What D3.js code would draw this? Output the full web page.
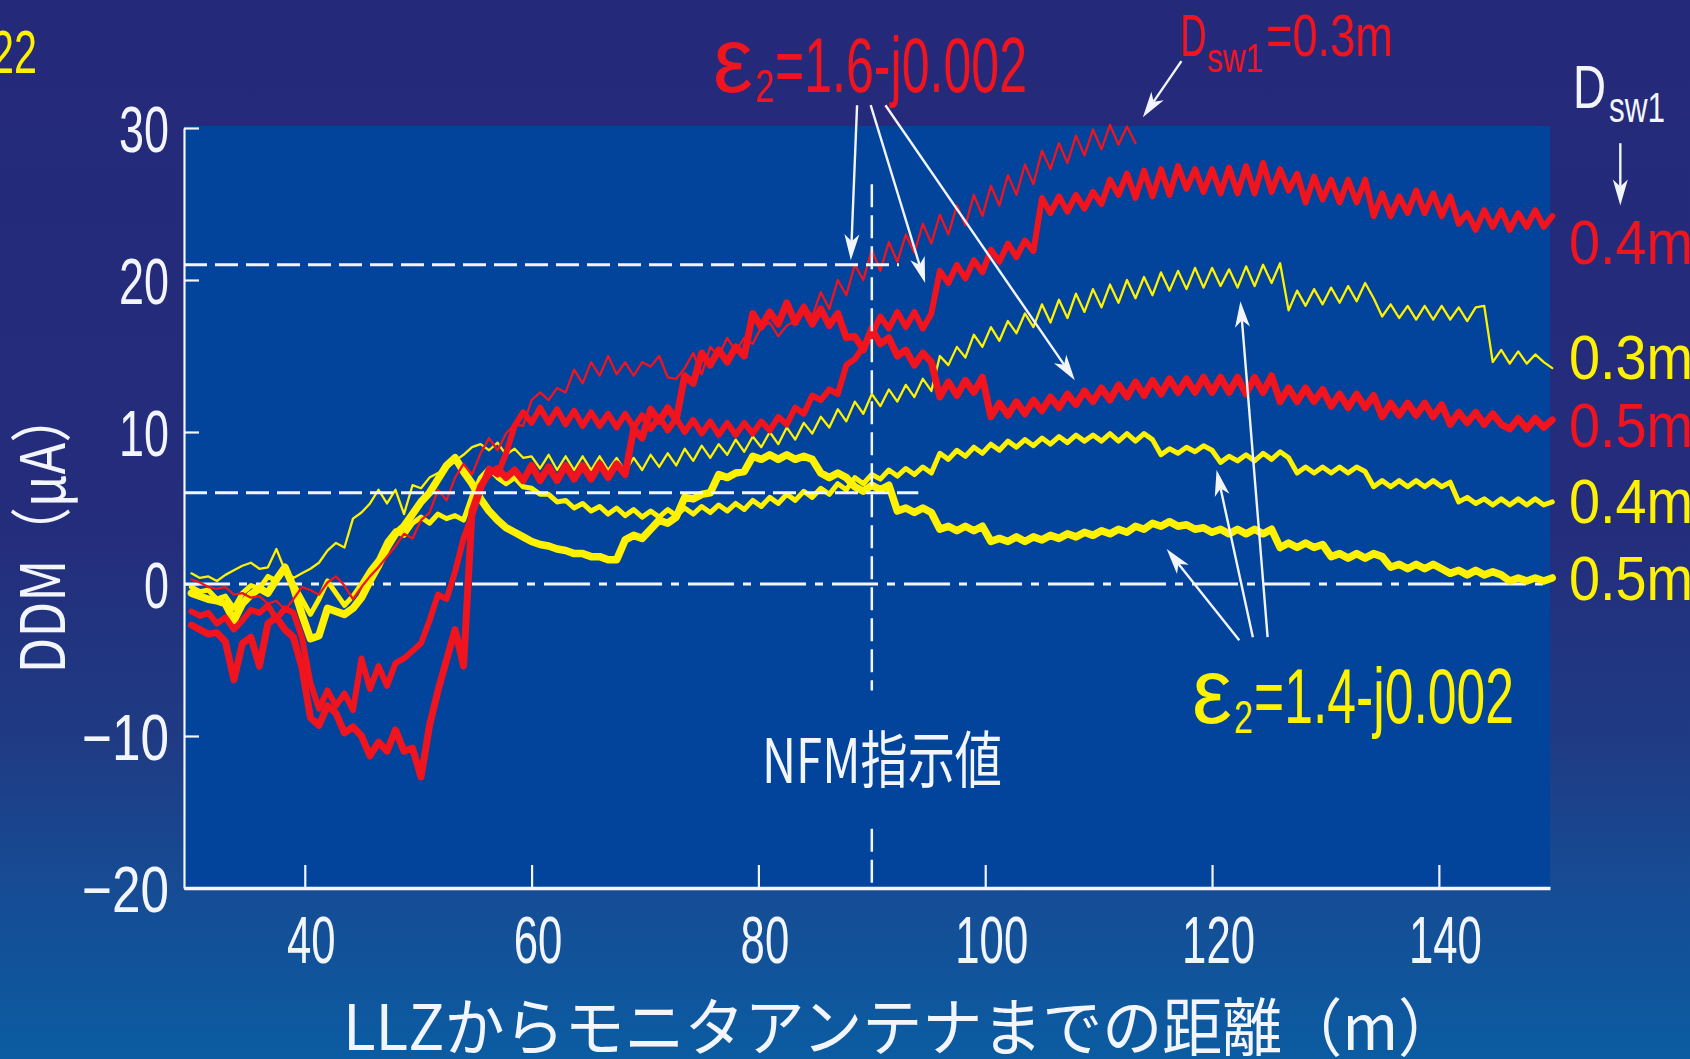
<!DOCTYPE html>
<html>
<head>
<meta charset="utf-8">
<script src="https://cdn.jsdelivr.net/npm/d3@7"></script>
<style>
  html, body { margin: 0; padding: 0; overflow: hidden; background: #24297a; }
  svg { display: block; }
</style>
</head>
<body>
<svg id="chart" width="1690" height="1059"></svg>
<script>
// Measurement grid: distance from the LLZ, 30 m to 150 m, one sample every 0.75 m
const xStart = 30;
const xStep = 0.75;

const xTicks = [40, 60, 80, 100, 120, 140];
const yTicks = [30, 20, 10, 0, -10, -20];

// DDM (μA), ε2 = 1.6 - j0.002, Dsw1 = 0.3 m (ends at 113.25 m)
const red03 = [
  0.3, 0.1, -0.2, -0.3, -0.2, -0.7, -0.6, -0.9, -0.8, -1.3, -1.1, -1.7, -1.0, -0.2, -0.4, -0.7, 0.1, 0.5, -0.1, -1.0,
  -0.2, 0.5, 1.1, 1.8, 2.5, 3.3, 3.0, 4.2, 4.7, 6.2, 5.5, 7.0, 7.9, 7.2, 8.6, 9.6, 8.8, 9.9, 10.5, 10.4,
  12.1, 12.6, 12.1, 12.9, 12.6, 14.1, 13.2, 14.6, 13.7, 15.0, 13.8, 14.6, 13.7, 14.6, 14.3, 15.0, 13.6, 13.5, 14.2, 15.2,
  13.8, 15.6, 15.0, 16.2, 15.3, 16.2, 15.8, 16.9, 17.2, 16.3, 17.0, 17.3, 18.4, 17.6, 19.2, 18.1, 20.0, 19.0, 21.0, 20.0,
  22.0, 20.6, 22.5, 21.2, 23.0, 21.8, 23.7, 22.4, 24.3, 23.0, 24.9, 23.6, 25.6, 24.2, 26.2, 24.9, 26.9, 25.6, 27.6, 26.3,
  28.5, 27.3, 29.0, 27.7, 29.5, 28.2, 29.9, 28.6, 30.2, 28.9, 30.1, 29.0
];

// DDM (μA), ε2 = 1.6 - j0.002, Dsw1 = 0.4 m
const red04 = [
  -1.8, -2.1, -1.9, -2.6, -2.2, -3.0, -2.4, -1.7, -1.9, -1.4, -2.3, -1.6, -1.9, -3.5, -6.5, -8.2, -7.0, -8.0, -7.2, -8.3,
  -4.9, -6.9, -5.4, -6.7, -5.2, -4.9, -4.4, -3.9, -2.4, -0.7, -1.0, 0.8, 3.0, 4.5, 6.2, 7.6, 7.2, 8.6, 10.4, 11.3,
  10.6, 11.6, 10.6, 11.5, 10.5, 11.4, 10.4, 11.3, 10.4, 11.2, 10.3, 11.2, 10.3, 11.1, 10.2, 11.0, 10.1, 10.9, 10.0, 10.8,
  9.9, 10.7, 9.8, 10.6, 9.8, 10.6, 9.9, 10.7, 10.1, 11.0, 10.5, 11.6, 11.2, 12.4, 12.1, 12.8, 12.5, 14.4, 14.8, 15.6,
  16.4, 17.6, 16.8, 17.9, 16.9, 17.9, 16.8, 17.8, 20.6, 19.8, 21.0, 20.1, 21.3, 20.5, 22.0, 21.2, 22.4, 21.5, 22.6, 21.9,
  25.4, 24.4, 25.5, 24.5, 25.6, 24.7, 25.8, 25.0, 26.6, 25.6, 27.0, 25.4, 27.2, 25.5, 27.3, 25.6, 27.5, 26.0, 27.3, 25.8,
  27.3, 25.7, 27.4, 25.7, 27.5, 25.7, 27.7, 25.8, 27.3, 25.9, 27.0, 25.1, 26.8, 25.3, 26.6, 25.1, 26.6, 25.1, 26.6, 24.2,
  25.7, 24.2, 25.5, 24.4, 25.9, 24.4, 25.7, 24.2, 25.5, 23.7, 24.4, 23.3, 24.6, 23.5, 24.6, 23.3, 24.4, 23.5, 24.6, 23.5,
  24.2
];

// DDM (μA), ε2 = 1.6 - j0.002, Dsw1 = 0.5 m
const red05 = [
  -2.7, -3.0, -3.3, -3.2, -3.8, -6.3, -3.9, -3.5, -5.4, -2.6, -2.2, -3.0, -3.5, -5.5, -8.8, -9.3, -8.0, -8.5, -9.8, -9.4,
  -10.0, -11.3, -10.4, -11.0, -9.6, -11.0, -10.8, -12.7, -9.3, -7.0, -5.0, -3.0, -5.4, 4.8, 6.4, 7.3, 7.6, 7.0, 7.5, 6.8,
  7.8, 6.8, 7.7, 6.8, 7.8, 6.9, 7.8, 6.9, 7.9, 7.0, 7.9, 7.2, 10.2, 9.6, 11.5, 10.7, 11.6, 10.8, 13.7, 13.2,
  15.2, 14.4, 15.4, 14.6, 15.6, 15.0, 17.8, 16.9, 17.9, 17.1, 18.5, 17.2, 18.2, 17.1, 18.1, 17.0, 17.8, 16.2, 16.3, 15.4,
  16.8, 15.8, 16.2, 15.0, 15.4, 14.4, 15.2, 14.6, 12.3, 13.3, 12.4, 13.4, 12.6, 13.6, 11.0, 11.9, 11.1, 12.0, 11.2, 12.1,
  11.4, 12.3, 11.6, 12.5, 11.8, 12.7, 12.0, 12.9, 12.1, 13.1, 12.3, 13.3, 12.4, 13.4, 12.5, 13.5, 12.6, 13.5, 12.6, 13.6,
  12.6, 13.6, 12.6, 13.6, 12.5, 13.6, 12.6, 13.7, 12.0, 12.9, 12.0, 12.9, 12.0, 12.8, 11.7, 12.5, 11.6, 12.5, 11.6, 12.4,
  11.0, 11.9, 11.1, 11.9, 11.1, 11.9, 11.0, 11.8, 10.5, 11.3, 10.6, 11.3, 10.5, 11.2, 10.5, 10.2, 10.9, 10.2, 10.9, 10.3,
  10.8
];

// DDM (μA), ε2 = 1.4 - j0.002, Dsw1 = 0.3 m
const yel03 = [
  0.7, 0.4, 0.5, 0.2, 0.6, 0.9, 1.2, 1.4, 1.0, 1.1, 2.3, 0.9, 0.4, 0.7, 1.0, 1.4, 2.2, 2.7, 2.4, 4.3,
  4.7, 5.3, 6.2, 5.3, 6.2, 4.6, 6.5, 6.3, 7.0, 7.3, 7.6, 8.1, 8.5, 9.0, 9.2, 8.8, 9.3, 8.5, 8.9, 8.3,
  8.4, 7.6, 8.5, 7.5, 8.4, 7.5, 8.4, 7.5, 8.4, 7.5, 8.3, 7.4, 8.3, 7.5, 8.5, 7.7, 8.6, 7.8, 8.9, 8.1,
  9.1, 8.3, 9.2, 8.5, 9.5, 8.7, 9.7, 9.0, 10.0, 9.2, 10.3, 9.5, 10.6, 9.9, 11.0, 10.3, 11.5, 10.7, 12.0, 11.2,
  12.5, 11.7, 12.8, 12.0, 13.1, 12.3, 13.5, 12.7, 15.0, 14.4, 15.6, 14.9, 16.4, 15.6, 16.9, 16.0, 17.3, 16.5, 17.8, 16.9,
  18.4, 17.2, 18.7, 17.5, 19.1, 17.9, 19.4, 18.2, 19.7, 18.5, 20.0, 18.8, 20.2, 19.0, 20.5, 19.3, 20.6, 19.4, 20.8, 19.5,
  20.8, 19.6, 20.7, 19.5, 20.9, 19.6, 21.0, 19.8, 21.1, 18.0, 19.3, 18.3, 19.4, 18.4, 19.5, 18.5, 19.6, 18.6, 19.8, 18.8,
  17.6, 18.4, 17.5, 18.3, 17.4, 18.3, 17.4, 18.3, 17.4, 18.2, 17.3, 18.2, 18.3, 14.6, 15.4, 14.5, 15.3, 14.5, 15.1, 14.6,
  14.2
];

// DDM (μA), ε2 = 1.4 - j0.002, Dsw1 = 0.4 m
const yel04 = [
  -0.2, -0.5, -0.4, -1.0, -0.8, -1.6, -0.6, -0.1, -0.3, 0.5, 0.2, 1.0, 0.0, -1.0, -2.0, -1.0, 0.2, -0.6, -1.4, -0.8,
  0.0, 0.9, 1.6, 2.8, 3.5, 3.2, 4.0, 4.4, 4.0, 4.6, 4.3, 4.5, 4.2, 5.8, 7.0, 7.6, 7.0, 6.6, 7.0, 6.4,
  6.3, 5.9, 5.9, 5.4, 5.5, 5.0, 5.3, 4.8, 5.1, 4.6, 5.0, 4.5, 4.9, 4.4, 4.8, 4.4, 4.9, 4.5, 5.0, 4.6,
  5.1, 4.7, 5.2, 4.8, 5.3, 4.9, 5.5, 5.1, 5.7, 5.3, 5.9, 5.5, 6.1, 5.7, 6.3, 5.9, 6.6, 6.2, 7.0, 6.6,
  7.2, 6.9, 7.5, 7.1, 7.6, 7.2, 7.7, 7.3, 8.6, 8.2, 8.8, 8.4, 9.0, 8.6, 9.2, 8.8, 9.4, 9.0, 9.5, 9.1,
  9.6, 9.2, 9.7, 9.3, 9.8, 9.4, 9.8, 9.4, 9.9, 9.4, 9.9, 9.4, 9.9, 9.5, 8.5, 8.9, 8.6, 9.0, 8.7, 9.1,
  8.8, 8.0, 8.4, 8.1, 8.5, 8.1, 8.6, 8.2, 8.7, 8.3, 7.3, 7.7, 7.3, 7.7, 7.3, 7.7, 7.3, 7.7, 7.4, 6.4,
  6.8, 6.4, 6.8, 6.4, 6.8, 6.4, 6.8, 6.4, 6.7, 5.4, 5.7, 5.3, 5.6, 5.2, 5.6, 5.2, 5.6, 5.2, 5.6, 5.2,
  5.4
];

// DDM (μA), ε2 = 1.4 - j0.002, Dsw1 = 0.5 m
const yel05 = [
  -0.6, -0.8, -1.0, -1.1, -1.3, -2.4, -1.3, -0.7, -0.3, -0.6, 0.3, 1.1, -0.2, -2.0, -3.6, -3.4, -1.6, -1.8, -2.0, -1.6,
  -0.9, 0.2, 1.2, 2.4, 3.3, 3.8, 4.6, 5.4, 6.0, 6.9, 7.8, 8.3, 7.4, 6.6, 5.6, 4.8, 4.2, 3.7, 3.4, 3.1,
  2.8, 2.6, 2.5, 2.3, 2.2, 2.0, 2.0, 1.8, 1.8, 1.6, 1.6, 2.9, 3.2, 3.0, 3.6, 4.2, 4.0, 4.4, 5.7, 5.6,
  5.9, 6.0, 7.2, 7.0, 7.3, 7.4, 8.4, 8.2, 8.5, 8.2, 8.5, 8.2, 8.4, 8.2, 7.3, 7.0, 7.3, 7.0, 6.4, 6.1,
  6.5, 6.2, 6.5, 4.8, 5.0, 4.7, 5.0, 4.7, 3.6, 3.8, 3.5, 3.8, 3.5, 3.8, 2.8, 3.0, 2.8, 3.1, 2.8, 3.1,
  2.9, 3.2, 3.0, 3.3, 3.1, 3.4, 3.2, 3.5, 3.3, 3.6, 3.4, 3.8, 3.6, 4.0, 3.8, 4.1, 3.8, 3.9, 3.6, 3.7,
  3.4, 3.6, 3.3, 3.6, 3.3, 3.6, 3.3, 3.6, 2.4, 2.7, 2.4, 2.7, 2.4, 2.6, 1.8, 2.0, 1.7, 2.0, 1.7, 2.0,
  1.8, 1.1, 1.3, 1.0, 1.3, 1.0, 1.3, 1.0, 0.7, 0.9, 0.6, 0.9, 0.6, 0.8, 0.6, 0.2, 0.4, 0.2, 0.4, 0.2,
  0.4
];

// Right-hand end labels (Dsw1 per curve)
const endLabels = ["0.4m", "0.3m", "0.5m", "0.4m", "0.5m"];

const RED = "#f0141e";
const YEL = "#fff200";
const WHITE = "#f2f5fb";
const LATIN = "'Liberation Sans', Arial, sans-serif";
const CJK = "'Noto Sans CJK JP', 'Noto Sans', sans-serif";

const svg = d3.select("#chart");
const W = 1690, H = 1059;

const x = d3.scaleLinear().domain([29.35, 149.8]).range([184, 1550]);
const y = d3.scaleLinear().domain([-20, 30]).range([888, 128]);

// ---- background ----
const defs = svg.append("defs");
const bg = defs.append("linearGradient").attr("id", "bgGrad")
  .attr("x1", 0).attr("y1", 0).attr("x2", 0).attr("y2", 1);
[[0, "#25297a"], [0.5, "#242d7c"], [0.7, "#1f3b84"], [0.85, "#154d95"], [1, "#0b5ca2"]]
  .forEach(([o, c]) => bg.append("stop").attr("offset", o).attr("stop-color", c));
svg.append("rect").attr("width", W).attr("height", H).attr("fill", "url(#bgGrad)");

// plot area
svg.append("rect")
  .attr("x", x(29.35)).attr("y", y(30) - 2)
  .attr("width", x(149.8) - x(29.35)).attr("height", y(-20) - y(30) + 2)
  .attr("fill", "#02449b");

// zero reference (dash-dot)
svg.append("line")
  .attr("x1", x(29.35)).attr("x2", x(149.8))
  .attr("y1", y(0)).attr("y2", y(0))
  .attr("stroke", WHITE).attr("stroke-width", 3)
  .attr("stroke-dasharray", "46,9,8,9");

// ---- curves ----
const line = d3.line()
  .x((d, i) => x(xStart + i * xStep))
  .y(d => y(d))
  .curve(d3.curveLinear);

const curves = [
  { values: yel05, color: YEL, width: 7.5 },
  { values: yel04, color: YEL, width: 5 },
  { values: yel03, color: YEL, width: 2.3 },
  { values: red05, color: RED, width: 7 },
  { values: red04, color: RED, width: 6 },
  { values: red03, color: RED, width: 2.3 }
];

svg.append("g").selectAll("path").data(curves).join("path")
  .attr("d", d => line(d.values))
  .attr("fill", "none")
  .attr("stroke", d => d.color)
  .attr("stroke-width", d => d.width)
  .attr("stroke-linejoin", "round")
  .attr("stroke-linecap", "round");

// ---- dashed guide lines (21 μA, 6 μA, 90 m) ----
const guides = [
  { x1: 29.35, y1: 21, x2: 92.4, y2: 21, w: 3 },
  { x1: 29.35, y1: 6, x2: 94.1, y2: 6, w: 3 },
  { x1: 90, y1: 26.3, x2: 90, y2: -7.0, w: 2.5 },
  { x1: 90, y1: -16.1, x2: 90, y2: -20, w: 2.5 }
];
svg.append("g").selectAll("line").data(guides).join("line")
  .attr("x1", d => x(d.x1)).attr("x2", d => x(d.x2))
  .attr("y1", d => y(d.y1)).attr("y2", d => y(d.y2))
  .attr("stroke", WHITE).attr("stroke-width", d => d.w)
  .attr("stroke-dasharray", "23,8");

// ---- axes ----
const fmt = d3.format("d");
const labelLen = (s, per) => s.replace("−", "").length * per + (s.includes("−") ? 37 : 0);

const gy = svg.append("g").attr("transform", `translate(${x(29.35)},0)`)
  .call(d3.axisLeft(y).tickValues(yTicks).tickSize(-15).tickSizeOuter(0).tickPadding(15).tickFormat(fmt));
gy.select(".domain").attr("stroke", WHITE).attr("stroke-width", 2.2);
gy.selectAll(".tick line").attr("stroke", WHITE).attr("stroke-width", 2.2);
gy.selectAll(".tick text")
  .attr("fill", WHITE).attr("font-family", LATIN).attr("font-size", 64)
  .attr("dy", "0.36em")
  .attr("lengthAdjust", "spacingAndGlyphs")
  .attr("textLength", function () { return labelLen(this.textContent, 25); });

const gx = svg.append("g").attr("transform", `translate(0,${y(-20)})`)
  .call(d3.axisBottom(x).tickValues(xTicks).tickSize(-23).tickSizeOuter(0).tickPadding(28).tickFormat(fmt));
gx.select(".domain").attr("stroke", WHITE).attr("stroke-width", 3.5);
gx.selectAll(".tick line").attr("stroke", WHITE).attr("stroke-width", 2.2);
gx.selectAll(".tick text")
  .attr("fill", WHITE).attr("font-family", LATIN).attr("font-size", 66)
  .attr("dx", 6)
  .attr("lengthAdjust", "spacingAndGlyphs")
  .attr("textLength", function () { return labelLen(this.textContent, 24.3); });

// ---- arrows ----
const arrows = [
  { from: [117.3, 34.4], to: [113.9, 30.7] },
  { from: [88.7, 31.5], to: [88.15, 21.3] },
  { from: [89.9, 31.5], to: [94.7, 19.8] },
  { from: [91.2, 31.5], to: [107.9, 13.4] },
  { from: [122.4, -3.7], to: [116.0, 2.3] },
  { from: [123.6, -3.5], to: [120.4, 7.5] },
  { from: [124.9, -3.5], to: [122.5, 18.6] },
  { from: [156.0, 29.0], to: [156.0, 24.9] }
];
const ga = svg.append("g");
arrows.forEach(a => {
  const x1 = x(a.from[0]), y1 = y(a.from[1]), x2 = x(a.to[0]), y2 = y(a.to[1]);
  const dx = x2 - x1, dy = y2 - y1, L = Math.hypot(dx, dy), ux = dx / L, uy = dy / L;
  const hl = 26, hw = 7.5, notch = 7;
  const bx = x2 - ux * hl, by = y2 - uy * hl;
  const nx = x2 - ux * (hl - notch), ny = y2 - uy * (hl - notch);
  ga.append("line").attr("x1", x1).attr("y1", y1).attr("x2", nx).attr("y2", ny)
    .attr("stroke", WHITE).attr("stroke-width", 2.4);
  ga.append("path")
    .attr("d", `M${x2},${y2}L${bx - uy * hw},${by + ux * hw}L${nx},${ny}L${bx + uy * hw},${by - ux * hw}Z`)
    .attr("fill", WHITE);
});

// ---- text ----
function label(str, px, py, size, color, len, family) {
  const t = svg.append("text").attr("x", px).attr("y", py)
    .attr("font-family", family || LATIN).attr("font-size", size).attr("fill", color)
    .text(str);
  if (len) t.attr("textLength", len).attr("lengthAdjust", "spacingAndGlyphs");
  return t;
}

// figure number fragment at the top-left corner
label("22", 37, 73, 62, YEL, 46).attr("text-anchor", "end");

// ε2 = 1.6 - j0.002 (red)
label("ε", 713, 92, 92, RED, 40);
label("2", 755, 102, 46, RED, 19);
label("=1.6-j0.002", 775, 92, 78, RED, 252);

// Dsw1 = 0.3m (red)
label("D", 1180, 56, 60, RED, 26);
label("sw1", 1207, 72, 40, RED, 56);
label("=0.3m", 1266, 56, 60, RED, 127);

// Dsw1 heading (white) with arrow underneath
label("D", 1573, 108, 62, WHITE, 33);
label("sw1", 1609, 122, 42, WHITE, 56);

// curve end labels
const endColors = [RED, YEL, RED, YEL, YEL];
const endBase = [264, 379, 447, 523, 600];
svg.append("g").selectAll("text").data(endLabels).join("text")
  .attr("x", 1569).attr("y", (d, i) => endBase[i])
  .attr("font-family", LATIN).attr("font-size", 63)
  .attr("fill", (d, i) => endColors[i])
  .attr("textLength", 124).attr("lengthAdjust", "spacingAndGlyphs")
  .text(d => d);

// ε2 = 1.4 - j0.002 (yellow)
label("ε", 1192, 723, 92, YEL, 40);
label("2", 1234, 733, 46, YEL, 19);
label("=1.4-j0.002", 1254, 723, 78, YEL, 260);

// NFM reading marker
label("NFM指示値", 762, 783, 62, WHITE, 240, CJK);

// axis titles
label("LLZからモニタアンテナまでの距離（m）", 343, 1050, 63, WHITE, 1115, CJK);
svg.append("text")
  .attr("transform", "translate(65,532) rotate(-90)")
  .attr("text-anchor", "middle")
  .attr("font-family", CJK).attr("font-size", 62).attr("fill", WHITE)
  .attr("textLength", 283).attr("lengthAdjust", "spacingAndGlyphs")
  .text("DDM（μA）");
</script>
</body>
</html>
